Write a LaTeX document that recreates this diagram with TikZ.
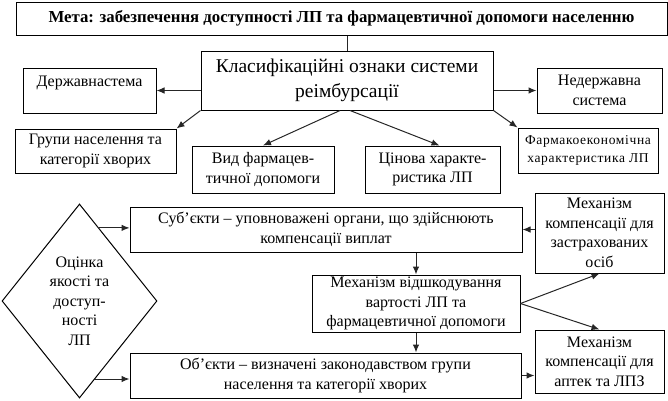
\documentclass[tikz,border=0pt]{standalone}
\usepackage{fontspec}
\setmainfont{Liberation Serif}
\usetikzlibrary{arrows.meta,shapes.geometric,calc}
\tikzset{
  box/.style={draw, line width=1pt, align=center, inner sep=1pt, font=\fontsize{16}{19.5}\selectfont},
  arr/.style={draw=black!85, line width=1pt, -{Latex[length=8pt,width=6.5pt]}},
  ln/.style={draw=black!85, line width=1pt}
}
\begin{document}
\begin{tikzpicture}[x=1pt,y=-1pt]
\useasboundingbox (0,0) rectangle (668,400);
\node[box, minimum width=651, minimum height=33, font=\fontsize{16.8}{19}\selectfont\bfseries] (top) at (341.5,18.5) {Мета: забезпечення доступності ЛП та фармацевтичної допомоги населенню};
\node[box, minimum width=292, minimum height=59, font=\fontsize{19.5}{25}\selectfont] (class) at (347,80.5) {Класифікаційні ознаки системи\\реімбурсації};
\node[box, minimum width=133, minimum height=45] (derzh) at (89.5,90.5) {Державнастема\\[-2pt]\mbox{}};
\node[box, minimum width=125, minimum height=45] (nederzh) at (599.5,90.5) {Недержавна\\система};
\node[box, minimum width=161, minimum height=44] (hrupy) at (95.5,151) {Групи населення та\\категорії хворих};
\node[box, minimum width=142, minimum height=47] (vyd) at (263,169.5) {Вид фармацев-\\тичної допомоги};
\node[box, minimum width=135, minimum height=47] (tsina) at (432.5,169.5) {Цінова характе-\\ристика ЛП};
\node[box, minimum width=140, minimum height=45, font=\fontsize{13.5}{18.5}\selectfont\addfontfeature{LetterSpace=5}] (farmako) at (588,150.5) {Фармакоекономічна\\характеристика ЛП};
\node[box, minimum width=392, minimum height=45] (subj) at (326,229.5) {Суб’єкти – уповноважені органи, що здійснюють\\компенсації виплат};
\node[box, minimum width=129, minimum height=80] (zastr) at (599.5,233) {Механізм\\компенсації для\\застрахованих\\осіб};
\node[box, minimum width=208, minimum height=57] (vidshk) at (416,303.5) {Механізм відшкодування\\вартості ЛП та\\фармацевтичної допомоги};
\node[box, minimum width=391, minimum height=45] (obj) at (325.5,375.5) {Об’єкти – визначені законодавством групи\\населення та категорії хворих};
\node[box, minimum width=129, minimum height=63] (aptek) at (599.5,361.5) {Механізм\\компенсації для\\аптек та ЛПЗ};
\node[box, shape=diamond, minimum width=155, minimum height=194, inner sep=0pt] (diam) at (79.5,301) {Оцінка\\якості та\\доступ-\\ності\\ЛП};
\coordinate (d1) at ($(diam.north)!0.25!(diam.east)$);
\coordinate (d2) at ($(diam.east)!0.8!(diam.south)$);
% connectors
\draw[ln] (class.north) -- (class.north |- top.south);
\draw[arr] (class.west |- derzh.east) -- (derzh.east);
\draw[arr] (class.east |- nederzh.west) -- (nederzh.west);
\draw[arr] (class.south west) -- (hrupy.north east);
\draw[arr] ([xshift=-7pt]class.south) -- (vyd.north);
\draw[arr] ([xshift=3pt]class.south) -- ([xshift=7pt]tsina.north);
\draw[arr] (class.south east) -- (farmako.north west);
\draw[arr] (d1) -- (d1 -| subj.west);
\draw[arr] (d2) -- (d2 -| obj.west);
\draw[arr] (zastr.west |- subj.east) -- (subj.east);
\draw[arr] (vidshk.north |- subj.south) -- (vidshk.north);
\draw[arr] (vidshk.south) -- (vidshk.south |- obj.north);
\draw[arr] (vidshk.east) -- (zastr.south);
\draw[arr] (vidshk.east) -- (aptek.north);
\draw[arr] (obj.east) -- (obj.east -| aptek.west);
\end{tikzpicture}
\end{document}
